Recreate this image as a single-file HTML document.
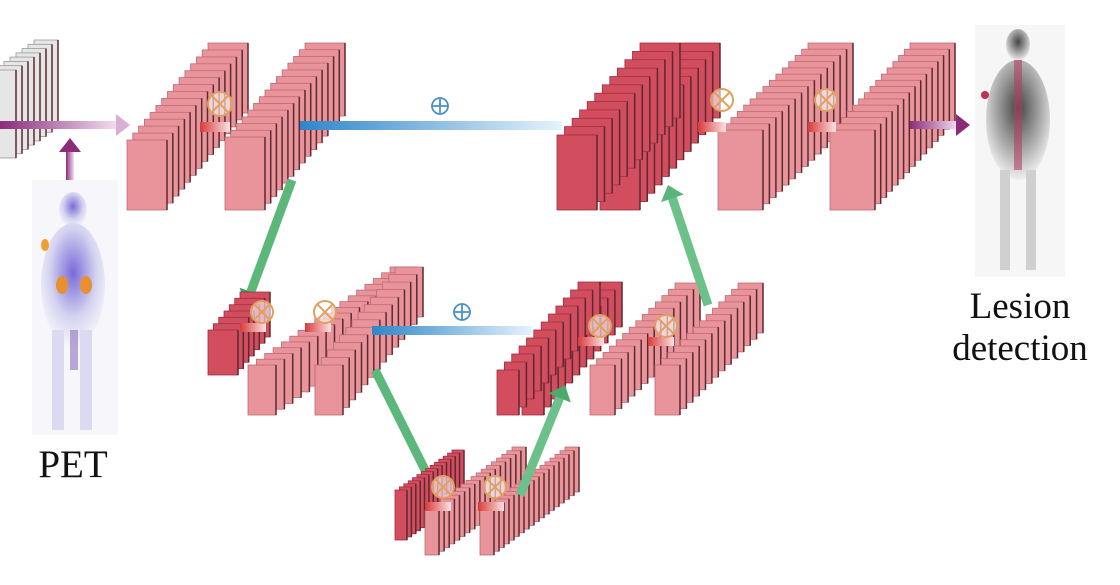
<!DOCTYPE html>
<html><head><meta charset="utf-8"><style>
html,body{margin:0;padding:0;background:#fff;width:1120px;height:585px;overflow:hidden}
svg{display:block}
text{font-family:"Liberation Serif",serif;fill:#111}
</style></head><body>
<svg id="s" width="1120" height="585" xmlns="http://www.w3.org/2000/svg">
<defs>
<linearGradient id="gp" x1="0" x2="1"><stop offset="0" stop-color="#8a2c7a"/><stop offset="1" stop-color="#f2dff0"/></linearGradient>
<linearGradient id="gpu" x1="0" y1="1" x2="0" y2="0"><stop offset="0" stop-color="#f2dff0"/><stop offset="1" stop-color="#8a2c7a"/></linearGradient>
<linearGradient id="gb" x1="0" x2="1"><stop offset="0" stop-color="#2f86c8"/><stop offset="1" stop-color="#e6f3fb"/></linearGradient>
<linearGradient id="gr" x1="0" x2="1"><stop offset="0" stop-color="#d93a3a"/><stop offset="1" stop-color="#fbe3e3"/></linearGradient>
<radialGradient id="body" cx="0.5" cy="0.4" r="0.6"><stop offset="0" stop-color="#7a6ad8"/><stop offset="0.6" stop-color="#d4d3f0"/><stop offset="1" stop-color="#f6f6fa"/></radialGradient>
<radialGradient id="body2" cx="0.5" cy="0.4" r="0.6"><stop offset="0" stop-color="#444"/><stop offset="0.6" stop-color="#aaa"/><stop offset="1" stop-color="#f0f0f0"/></radialGradient>
</defs>
<g id="g"></g>
<text x="73" y="477" font-size="39" text-anchor="middle">PET</text>
<text x="1020" y="318" font-size="37" text-anchor="middle">Lesion</text>
<text x="1020" y="360" font-size="37" text-anchor="middle">detection</text>
</svg>
<script>
var g=document.getElementById('g'),h='';
function stack(fx,fy,w,hh,bx,by,n,fill,edge){
 for(var i=n-1;i>=0;i--){var t=i/(n-1);var x=fx+(bx-fx)*t,y=fy+(by-fy)*t;
  h+='<rect x="'+x.toFixed(1)+'" y="'+y.toFixed(1)+'" width="'+w+'" height="'+hh+'" fill="'+fill+'" stroke="'+edge+'" stroke-width="0.8"/>';
  h+='<line x1="'+(x+w).toFixed(1)+'" y1="'+y.toFixed(1)+'" x2="'+(x+w).toFixed(1)+'" y2="'+(y+hh).toFixed(1)+'" stroke="#5a2a30" stroke-width="1.5"/>';}
}
function arrow(x1,y1,x2,y2,grad,wd,col){
 var a=Math.atan2(y2-y1,x2-x1),L=Math.hypot(x2-x1,y2-y1);
 h+='<g transform="translate('+x1+','+y1+') rotate('+(a*180/Math.PI)+')"><rect x="0" y="'+(-wd/2)+'" width="'+(L-12)+'" height="'+wd+'" fill="'+grad+'"/><polygon points="'+(L-14)+','+(-wd-3)+' '+L+',0 '+(L-14)+','+(wd+3)+'" fill="'+col+'"/></g>';
}
function ot(x,y,r){h+='<circle cx="'+x+'" cy="'+y+'" r="'+r+'" fill="#fff" fill-opacity="0.6" stroke="#e0a060" stroke-width="2"/><path d="M'+(x-r*0.7)+','+(y-r*0.7)+'L'+(x+r*0.7)+','+(y+r*0.7)+'M'+(x+r*0.7)+','+(y-r*0.7)+'L'+(x-r*0.7)+','+(y+r*0.7)+'" stroke="#e0a060" stroke-width="2"/>';}
function op(x,y){h+='<circle cx="'+x+'" cy="'+y+'" r="8" fill="none" stroke="#4a90c8" stroke-width="1.8"/><path d="M'+(x-8)+','+y+'H'+(x+8)+'M'+x+','+(y-8)+'V'+(y+8)+'" stroke="#4a90c8" stroke-width="1.8"/>';}
var P='#e8949a',E='#c06a72',D='#d24d5e',DE='#a03040';
stack(-8,70,24,88,34,40,8,'#e6e6e6','#999');
h+='<rect x="32" y="180" width="86" height="255" fill="#f7f7fb"/><ellipse cx="73" cy="210" rx="14" ry="18" fill="url(#body)"/><ellipse cx="73" cy="285" rx="32" ry="62" fill="url(#body)"/><rect x="52" y="330" width="12" height="100" fill="#dcdaf0"/><rect x="80" y="330" width="12" height="100" fill="#dcdaf0"/><ellipse cx="62" cy="285" rx="6" ry="9" fill="#e89030"/><ellipse cx="86" cy="285" rx="6" ry="9" fill="#e89030"/><ellipse cx="45" cy="245" rx="4" ry="6" fill="#f0a030"/><rect x="70" y="330" width="8" height="40" fill="#9070c0" opacity="0.6"/>';
h+='<rect x="975" y="25" width="90" height="252" fill="#f6f6f6"/><ellipse cx="1018" cy="45" rx="12" ry="16" fill="url(#body2)"/><ellipse cx="1018" cy="120" rx="32" ry="60" fill="url(#body2)"/><rect x="1000" y="170" width="10" height="100" fill="#d0d0d0"/><rect x="1026" y="170" width="10" height="100" fill="#d0d0d0"/><rect x="1014" y="60" width="8" height="110" fill="#b04060" opacity="0.6"/><circle cx="985" cy="95" r="4" fill="#c03050"/>';
arrow(0,125,130,125,'url(#gp)',8,'#d8b0d4');
arrow(70,180,70,138,'url(#gpu)',8,'#8a2c7a');
stack(127,140,40,70,208,43,15,P,E);
stack(225,137,40,73,305,43,15,P,E);
h+='<rect x="200" y="122" width="30" height="10" fill="url(#gr)"/>';ot(220,104,12);
h+='<rect x="300" y="121" width="262" height="9" fill="url(#gb)"/>';op(440,106);
stack(600,135,40,75,680,43,12,D,DE);
stack(557,135,40,75,640,43,12,D,DE);
stack(718,130,45,80,808,43,15,P,E);
stack(830,130,45,80,910,43,15,P,E);
h+='<rect x="698" y="122" width="28" height="10" fill="url(#gr)"/>';ot(722,100,11);
h+='<rect x="808" y="122" width="28" height="10" fill="url(#gr)"/>';ot(826,100,11);
arrow(910,125,970,125,'url(#gp)',8,'#8a2c7a');
arrow(292,180,246,305,'#5cb87a',9,'#3aa060');
stack(208,330,30,45,240,292,7,D,DE);
stack(248,365,28,50,390,267,18,P,E);
stack(315,365,28,50,395,267,14,P,E);
h+='<rect x="240" y="323" width="26" height="9" fill="url(#gr)"/>';ot(262,312,11);
h+='<rect x="305" y="323" width="26" height="9" fill="url(#gr)"/>';ot(325,312,11);
h+='<rect x="372" y="326" width="160" height="9" fill="url(#gb)"/>';op(462,312);
stack(522,370,22,45,600,282,12,D,DE);
stack(497,370,22,45,578,282,12,D,DE);
stack(590,365,25,50,675,283,14,P,E);
stack(655,365,25,50,738,283,14,P,E);
h+='<rect x="578" y="337" width="26" height="9" fill="url(#gr)"/>';ot(600,326,11);
h+='<rect x="648" y="337" width="26" height="9" fill="url(#gr)"/>';ot(666,326,11);
arrow(708,305,668,185,'#6cc08a',9,'#5ab57a');
arrow(375,370,436,492,'#5cb87a',9,'#3aa060');
stack(395,490,12,50,452,450,14,D,DE);
stack(425,510,14,45,512,447,18,P,E);
stack(480,510,14,45,565,447,18,P,E);
h+='<rect x="425" y="502" width="26" height="9" fill="url(#gr)"/>';ot(443,487,11);
h+='<rect x="478" y="502" width="26" height="9" fill="url(#gr)"/>';ot(495,487,11);
arrow(520,495,565,385,'#6cc08a',9,'#4aab6a');
g.innerHTML=h;
</script>
</body></html>
